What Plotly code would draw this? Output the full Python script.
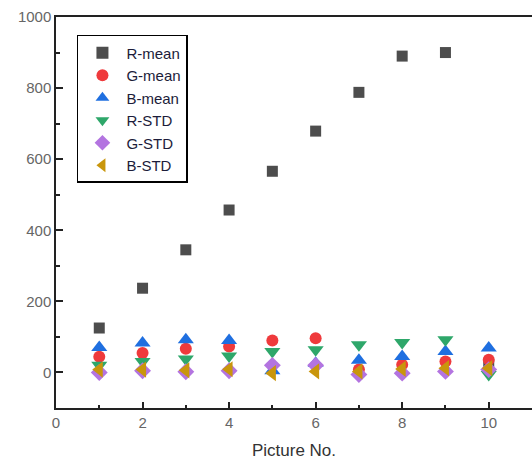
import plotly.graph_objects as go

pictures = [1, 2, 3, 4, 5, 6, 7, 8, 9, 10]
r_mean = [125, 237, 345, 457, 566, 679, 788, 890, 900, 22]
g_mean = [44, 55, 67, 73, 90, 96, 8, 22, 31, 36]
b_mean = [70, 83, 92, 90, 5, 26, 34, 45, 59, 69]
r_std = [20, 31, 38, 46, 59, 64, 78, 84, 92, -6]
g_std = [0, 5, 2, 5, 20, 20, -6, -2, 3, 8]
b_std = [8, 8, 6, 9, -2, 3, 3, 10, 12, 12]

series = [
    ("R-mean", r_mean, "square", "#4d4d4d", 11),
    ("G-mean", g_mean, "circle", "#ef3a3c", 12),
    ("B-mean", b_mean, "triangle-up", "#1f6fe0", 14),
    ("R-STD", r_std, "triangle-down", "#2ea76a", 14),
    ("G-STD", g_std, "diamond", "#b374e0", 13),
    ("B-STD", b_std, "triangle-left", "#c9960c", 14),
]

fig = go.Figure()
for name, vals, sym, col, sz in series:
    fig.add_trace(go.Scatter(
        x=pictures, y=vals, mode="markers", name=name,
        marker=dict(symbol=sym, color=col, size=sz, line=dict(width=0)),
    ))

font_family = "Liberation Sans, Arial, sans-serif"
fig.update_layout(
    width=532, height=464,
    margin=dict(l=56, r=0, t=17, b=56),
    paper_bgcolor="white", plot_bgcolor="white",
    font=dict(family=font_family, color="#555555", size=15),
    showlegend=True,
    legend=dict(
        x=0.044, y=0.954, xanchor="left", yanchor="top",
        bgcolor="white", bordercolor="black", borderwidth=1.5,
        font=dict(family=font_family, size=15, color="#1c1c3a"),
        tracegroupgap=0, itemsizing="constant", itemwidth=38,
        entrywidth=72, entrywidthmode="pixels",
    ),
)
fig.update_xaxes(
    range=[0, 11], tickvals=[0, 2, 4, 6, 8, 10],
    showgrid=False, zeroline=False,
    showline=True, linecolor="#222222", linewidth=1.5, mirror=True,
    ticks="inside", ticklen=6, tickwidth=1.5, tickcolor="#222222",
    minor=dict(tickvals=[1, 3, 5, 7, 9], ticks="inside", ticklen=3, tickwidth=1.5, tickcolor="#222222"),
    tickfont=dict(size=15, color="#666666"),
    title=dict(text="Picture No.", font=dict(size=17, color="#333333"), standoff=14),
)
fig.update_yaxes(
    range=[-100, 1000], tickvals=[0, 200, 400, 600, 800, 1000],
    showgrid=False, zeroline=False,
    showline=True, linecolor="#222222", linewidth=1.5, mirror=False,
    ticks="inside", ticklen=7, tickwidth=1.5, tickcolor="#222222",
    minor=dict(tickvals=[100, 300, 500, 700, 900], ticks="inside", ticklen=4, tickwidth=1.5, tickcolor="#222222"),
    tickfont=dict(size=15, color="#666666"),
)

fig.write_html("out.html")
